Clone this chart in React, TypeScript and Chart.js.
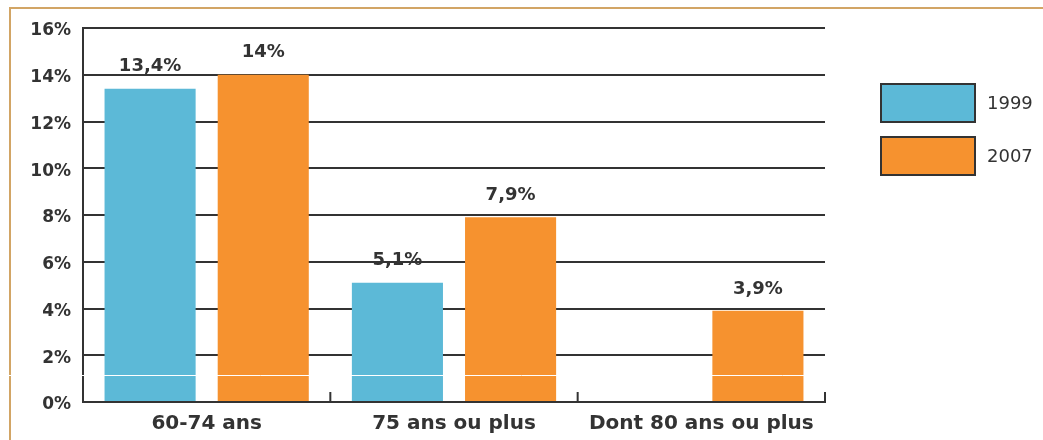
import React, { useEffect, useRef } from "react";
import { Chart, registerables } from "chart.js";

Chart.register(...registerables);

const categories = ["60-74 ans", "75 ans ou plus", "Dont 80 ans ou plus"];
const series1999: (number | null)[] = [13.4, 5.1, null];
const series2007: (number | null)[] = [14, 7.9, 3.9];
const seriesLabels = ["1999", "2007"];
const yMin = 0;
const yMax = 16;
const yStep = 2;

const BLUE = "#5cb9d7";
const ORANGE = "#f6922f";
const DARK = "#333333";
const FRAME = "#d2a565";
const FONT = "'DejaVu Sans', sans-serif";

const frame = {
  id: "frame",
  beforeDraw(chart: any) {
    const { ctx, width, height } = chart;
    ctx.save();
    ctx.fillStyle = "#ffffff";
    ctx.fillRect(0, 0, width, height);
    ctx.strokeStyle = FRAME;
    ctx.lineWidth = 2;
    ctx.beginPath();
    ctx.moveTo(10, height);
    ctx.lineTo(10, 8);
    ctx.lineTo(width, 8);
    ctx.stroke();
    ctx.restore();
  },
};

const valueLabels = {
  id: "valueLabels",
  afterDatasetsDraw(chart: any) {
    const ctx = chart.ctx;
    ctx.save();
    ctx.font = `bold 18px ${FONT}`;
    ctx.fillStyle = DARK;
    ctx.textAlign = "center";
    ctx.textBaseline = "middle";
    chart.data.datasets.forEach((ds: any, di: number) => {
      const meta = chart.getDatasetMeta(di);
      meta.data.forEach((el: any, i: number) => {
        const v = ds.data[i];
        if (v == null) return;
        ctx.fillText(String(v).replace(".", ",") + "%", el.x, el.y - 22);
      });
    });
    ctx.restore();
  },
};

const extras = {
  id: "extras",
  afterDraw(chart: any) {
    const { ctx, chartArea, scales, width } = chart;
    const x = scales.x;
    ctx.save();
    // small upward ticks at category boundaries
    ctx.strokeStyle = DARK;
    ctx.lineWidth = 2;
    const n = chart.data.labels.length;
    const bounds: number[] = [];
    for (let i = 0; i < n - 1; i++) {
      bounds.push((x.getPixelForValue(i) + x.getPixelForValue(i + 1)) / 2);
    }
    bounds.push(chartArea.right);
    ctx.beginPath();
    bounds.forEach((bx) => {
      ctx.moveTo(bx, chartArea.bottom);
      ctx.lineTo(bx, chartArea.bottom - 10);
    });
    ctx.stroke();

    // legend
    const boxX = chartArea.right + 56;
    const boxW = 94;
    const boxH = 38;
    const startY = 84;
    const gap = 53;
    chart.data.datasets.forEach((ds: any, i: number) => {
      const by = startY + i * gap;
      ctx.fillStyle = ds.backgroundColor;
      ctx.fillRect(boxX, by, boxW, boxH);
      ctx.strokeStyle = DARK;
      ctx.lineWidth = 2;
      ctx.strokeRect(boxX, by, boxW, boxH);
      ctx.fillStyle = DARK;
      ctx.font = `18px ${FONT}`;
      ctx.textAlign = "left";
      ctx.textBaseline = "middle";
      ctx.fillText(ds.label, boxX + boxW + 12, by + boxH / 2 + 1);
    });

    // scan artifact line
    ctx.strokeStyle = "#ffffff";
    ctx.lineWidth = 1;
    ctx.beginPath();
    ctx.moveTo(0, 375.5);
    ctx.lineTo(width, 375.5);
    ctx.stroke();
    ctx.restore();
  },
};

export default function App() {
  const ref = useRef<HTMLCanvasElement | null>(null);

  useEffect(() => {
    document.body.style.margin = "0";
    if (!ref.current) return;
    const chart = new Chart(ref.current, {
      type: "bar",
      data: {
        labels: categories,
        datasets: [
          {
            label: seriesLabels[0],
            data: series1999,
            backgroundColor: BLUE,
            categoryPercentage: 0.915,
            barPercentage: 0.805,
          },
          {
            label: seriesLabels[1],
            data: series2007,
            backgroundColor: ORANGE,
            categoryPercentage: 0.915,
            barPercentage: 0.805,
          },
        ],
      },
      options: {
        responsive: false,
        animation: false,
        layout: { padding: { top: 28, right: 218, left: 0, bottom: 0 } },
        plugins: {
          legend: { display: false },
          tooltip: { enabled: false },
        },
        scales: {
          x: {
            grid: { display: false, drawTicks: false },
            border: { display: true, color: DARK, width: 2 },
            ticks: {
              color: DARK,
              font: { family: FONT, size: 20, weight: "bold" },
              padding: 10,
              maxRotation: 0,
            },
            afterFit: (s: any) => {
              s.height = 38;
            },
          },
          y: {
            min: yMin,
            max: yMax,
            ticks: {
              stepSize: yStep,
              color: DARK,
              padding: 12,
              labelOffset: 3,
              font: { family: FONT, size: 17, weight: "bold" },
              callback: (v: any) => v + "%",
            },
            grid: { color: DARK, lineWidth: 2, drawTicks: false },
            border: { display: true, color: DARK, width: 2 },
            afterFit: (s: any) => {
              s.width = 83;
            },
          },
        },
      },
      plugins: [frame, valueLabels, extras],
    });
    return () => chart.destroy();
  }, []);

  return (
    <div style={{ width: 1043, height: 440 }}>
      <canvas ref={ref} width={1043} height={440} style={{ display: "block" }} />
    </div>
  );
}
